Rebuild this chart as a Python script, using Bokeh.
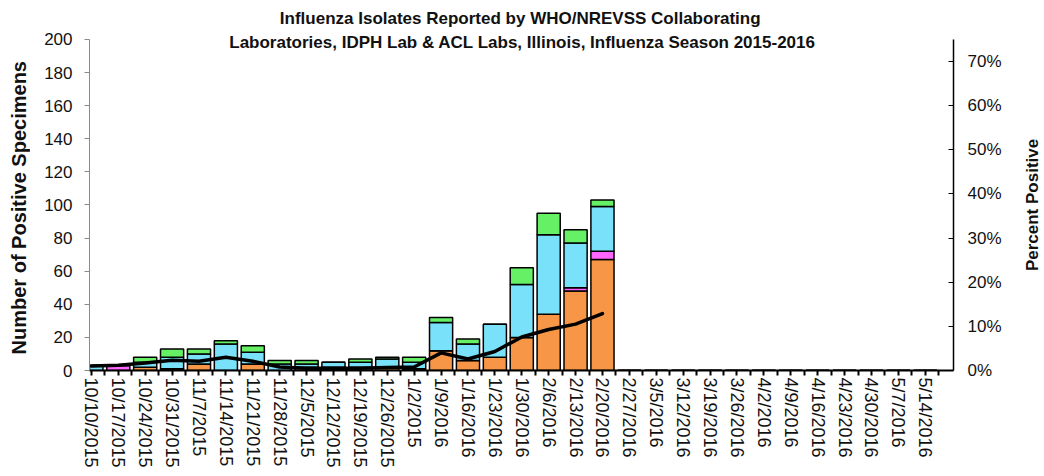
import math
from bokeh.plotting import figure
from bokeh.layouts import row
from bokeh.models import (Range1d, LinearAxis, FixedTicker, PrintfTickFormatter,
                          Label, ColumnDataSource)
from bokeh.embed import file_html
from bokeh.resources import INLINE

weeks = ["10/10/2015", "10/17/2015", "10/24/2015", "10/31/2015", "11/7/2015",
         "11/14/2015", "11/21/2015", "11/28/2015", "12/5/2015", "12/12/2015",
         "12/19/2015", "12/26/2015", "1/2/2015", "1/9/2016", "1/16/2016",
         "1/23/2016", "1/30/2016", "2/6/2016", "2/13/2016", "2/20/2016",
         "2/27/2016", "3/5/2016", "3/12/2016", "3/19/2016", "3/26/2016",
         "4/2/2016", "4/9/2016", "4/16/2016", "4/23/2016", "4/30/2016",
         "5/7/2016", "5/14/2016"]

h1n1 =  [0, 0, 2, 1, 4, 0, 4, 0, 2, 2, 2, 2, 1, 12, 6, 8, 20, 34, 48, 67] + [0] * 12
h3 =    [0, 3, 0, 0, 0, 0, 0, 0, 0, 0, 0, 0, 0, 0, 0, 0, 0, 0, 2, 5] + [0] * 12
unsub = [3, 0, 3, 7, 6, 16, 7, 4, 2, 3, 3, 5, 4, 17, 10, 20, 32, 48, 27, 27] + [0] * 12
flu_b = [0, 0, 3, 5, 3, 2, 4, 2, 2, 0, 2, 1, 3, 3, 3, 0, 10, 13, 8, 4] + [0] * 12

pct_positive = [1.0, 1.2, 1.7, 2.3, 2.1, 3.0, 2.1, 0.8, 0.5, 0.5, 0.5, 0.7, 0.8,
                4.0, 2.6, 4.3, 7.6, 9.3, 10.5, 12.9]

title_lines = ["Influenza  Isolates Reported by WHO/NREVSS Collaborating",
               "Laboratories, IDPH Lab & ACL Labs, Illinois, Influenza Season 2015-2016"]
y_title = "Number of  Positive Specimens"
y2_title = "Percent Positive"

FONT = "Liberation Sans"
TXT = "#111111"

COUNT_MAX = 200
PCT_MAX = 75
TOP_PAD = 23.5          # headroom above 200 (in counts) that holds the title
H = 470
BOTTOM = 99

idx = list(range(len(weeks)))
src = ColumnDataSource(dict(x=idx, h1n1=h1n1, h3=h3, unsub=unsub, flu_b=flu_b))
y_full = COUNT_MAX + TOP_PAD

p = figure(width=980, height=H, x_range=Range1d(-0.07, 32.05),
           y_range=Range1d(0, y_full), output_backend="svg",
           toolbar_location=None,
           min_border_left=59, min_border_right=57, min_border_top=0,
           min_border_bottom=BOTTOM)
p.outline_line_color = None
p.xgrid.visible = False
p.ygrid.visible = False

p.vbar_stack(["h1n1", "h3", "unsub", "flu_b"], x="x", width=0.86, source=src,
             color=["#F79646", "#FF66FF", "#79E1F9", "#66F066"],
             line_color="black", line_width=1.5)

p.extra_y_ranges = {"pct": Range1d(0, PCT_MAX * y_full / COUNT_MAX)}
p.line(idx[:len(pct_positive)], pct_positive, y_range_name="pct",
       line_color="black", line_width=3.5, line_join="round", line_cap="round")

# x axis
xa = p.xaxis[0]
xa.ticker = FixedTicker(ticks=idx, minor_ticks=[i - 0.5 for i in range(len(weeks) + 1)])
xa.major_label_overrides = {i: w for i, w in enumerate(weeks)}
xa.major_label_orientation = "vertical"
xa.major_label_text_font = FONT
xa.major_label_text_font_size = "18px"
xa.major_label_text_color = TXT
xa.major_label_standoff = 2
xa.axis_line_color = "black"
xa.axis_line_width = 2
xa.major_tick_line_color = "black"
xa.minor_tick_line_color = "black"
xa.major_tick_line_width = 2
xa.minor_tick_line_width = 2
xa.major_tick_in = 0
xa.major_tick_out = 5
xa.minor_tick_in = 0
xa.minor_tick_out = 5

# left axis
ya = p.yaxis[0]
ya.ticker = FixedTicker(ticks=list(range(0, COUNT_MAX + 1, 20)))
ya.bounds = (0, COUNT_MAX)
ya.axis_line_color = "#8a8a8a"
ya.major_tick_line_color = "#8a8a8a"
ya.minor_tick_line_color = None
ya.major_tick_in = 0
ya.major_tick_out = 5
ya.major_label_standoff = 12
ya.major_label_text_font = FONT
ya.major_label_text_font_size = "17px"
ya.major_label_text_color = TXT

# right axis
ra = LinearAxis(y_range_name="pct", ticker=FixedTicker(ticks=list(range(0, 71, 10))),
                formatter=PrintfTickFormatter(format="%d%%"))
ra.bounds = (0, PCT_MAX)
ra.axis_line_color = "black"
ra.axis_line_width = 1.5
ra.major_tick_line_color = "black"
ra.minor_tick_line_color = None
ra.major_tick_in = 5
ra.major_tick_out = 0
ra.major_label_standoff = 14
ra.major_label_text_font = FONT
ra.major_label_text_font_size = "17px"
ra.major_label_text_color = TXT
p.add_layout(ra, "right")

for txt, yv in zip(title_lines, [212.7, 198.2]):
    p.add_layout(Label(x=16.03, y=yv, text=txt, text_align="center",
                       text_baseline="middle", text_font=FONT,
                       text_font_style="bold", text_font_size="17px",
                       text_color=TXT))


def label_strip(text, width, xpos, size):
    """Narrow side figure holding one bottom-to-top axis title, centred on
    the middle of the 0..200 count scale."""
    f = figure(width=width, height=H, x_range=Range1d(0, 1),
               y_range=Range1d(0, y_full), output_backend="svg",
               toolbar_location=None, min_border_left=0, min_border_right=0,
               min_border_top=0, min_border_bottom=BOTTOM,
               x_axis_location=None, y_axis_location=None)
    f.outline_line_color = None
    f.xgrid.visible = False
    f.ygrid.visible = False
    f.add_layout(Label(x=xpos, y=COUNT_MAX / 2, text=text, angle=math.pi / 2,
                       text_align="center", text_baseline="middle",
                       text_font=FONT, text_font_style="bold",
                       text_font_size=size, text_color=TXT))
    return f


left = label_strip(y_title, 30, 0.6, "20px")
right = label_strip(y2_title, 32, 0.68, "17px")

layout = row(left, p, right)
open("out.html", "w").write(file_html(layout, INLINE))
